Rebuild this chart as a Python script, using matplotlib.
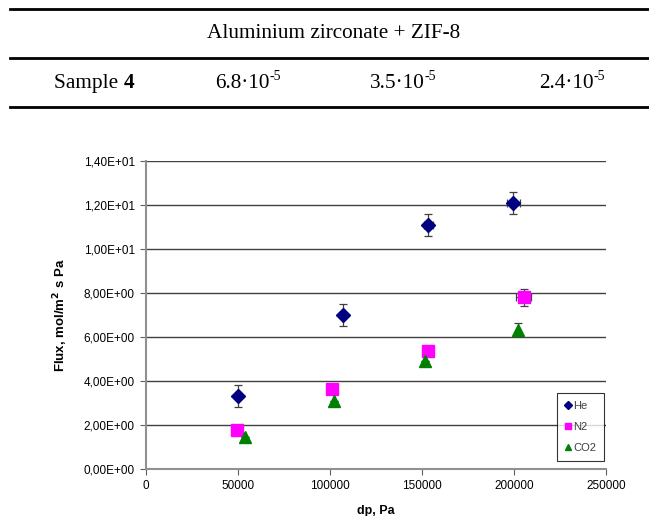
import numpy as np
import matplotlib.pyplot as plt
from matplotlib.lines import Line2D
from matplotlib.ticker import FuncFormatter, MultipleLocator

# table rows above the chart
table_title = "Aluminium zirconate + ZIF-8"
sample_name = "Sample "
sample_no = "4"
table_bases = ["6.8\u00b710", "3.5\u00b710", "2.4\u00b710"]
table_exps = ["-5", "-5", "-5"]

# He
dp_he = [50000, 107000, 153500, 199500]
flux_he = [3.35, 7.00, 11.10, 12.10]
he_yerr = [0.5, 0.5, 0.5, 0.5]
he_xerr = [0, 0, 2500, 3500]

# N2
dp_n2 = [49500, 101300, 153300, 205300]
flux_n2 = [1.79, 3.65, 5.39, 7.82]
n2_yerr = [0, 0, 0.15, 0.38]
n2_xerr = [0, 0, 1500, 4000]

# CO2
dp_co2 = [53800, 102200, 151500, 202200]
flux_co2 = [1.48, 3.10, 4.92, 6.35]
co2_yerr = [0, 0, 0, 0.3]
co2_xerr = [0, 0, 0, 0]

W, H = 649, 516
fig = plt.figure(figsize=(W / 100, H / 100), dpi=100)
renderer = fig.canvas.get_renderer()
inv = fig.transFigure.inverted()


def hline(y, lw):
    fig.add_artist(Line2D([10 / W, 1.0], [1 - y / H, 1 - y / H],
                          transform=fig.transFigure, color='black', lw=lw))


def width_fig(t):
    bb = t.get_window_extent(renderer=renderer)
    return bb.width / W


def centered_pieces(xc, y, pieces):
    # pieces: (text, size, weight, dy_px); laid out left to right, centred on xc
    texts = []
    for s, size, weight, dy in pieces:
        texts.append((fig.text(0, 1 - (y - dy) / H, s, ha='left', va='center', fontsize=size,
                               fontweight=weight, family=serif), dy))
    total = sum(width_fig(t) for t, _ in texts)
    x = xc / W - total / 2
    for t, _ in texts:
        t.set_x(x)
        x += width_fig(t)


hline(9, 2.0)
hline(57.5, 2.0)
hline(107, 2.0)

serif = ['Liberation Serif', 'DejaVu Serif']
fig.text(334 / W, 1 - 34 / H, table_title, ha='center', va='center',
         fontsize=15.3, family=serif)
centered_pieces(94.5, 83, [(sample_name, 15.3, 'normal', 0), (sample_no, 15.3, 'bold', 0)])
for xc, base, ex in zip([248, 403, 572], table_bases, table_exps):
    centered_pieces(xc, 83, [(base, 15.3, 'normal', 0), (ex, 10, 'normal', 6)])

# chart
ax = fig.add_axes([146 / W, 1 - 469.3 / H, 460 / W, 308 / H])

ax.errorbar(dp_he, flux_he, yerr=he_yerr, xerr=he_xerr, fmt='D', color='#000080',
            ms=7, mec='#000080', ecolor='#404040', elinewidth=0.9, capsize=3,
            capthick=0.9, label='He', zorder=3)
ax.errorbar(dp_n2, flux_n2, yerr=n2_yerr, xerr=n2_xerr, fmt='s', color='#FF00FF',
            ms=8, mec='#FF00FF', ecolor='#404040', elinewidth=0.9, capsize=3,
            capthick=0.9, label='N2', zorder=3)
ax.errorbar(dp_co2, flux_co2, yerr=co2_yerr, xerr=co2_xerr, fmt='^', color='#008000',
            ms=8, mec='#008000', ecolor='#404040', elinewidth=0.9, capsize=3,
            capthick=0.9, label='CO2', zorder=3)

ax.set_xlim(0, 250000)
ax.set_ylim(0, 14)
ax.xaxis.set_major_locator(MultipleLocator(50000))
ax.yaxis.set_major_locator(MultipleLocator(2))
ax.yaxis.set_major_formatter(FuncFormatter(lambda v, p: f"{v:.2E}".replace('.', ',')))

ax.grid(axis='y', color='#404040', lw=1.0)
ax.set_axisbelow(True)
for side in ['top', 'right']:
    ax.spines[side].set_visible(False)
ax.spines['left'].set_color('#909090')
ax.spines['bottom'].set_color('#909090')
ax.spines['left'].set_linewidth(1.5)
ax.spines['bottom'].set_linewidth(1.5)
ax.tick_params(axis='both', labelsize=8.5, length=4, color='#606060', pad=4)
for lab in ax.get_xticklabels() + ax.get_yticklabels():
    lab.set_family(['Liberation Sans', 'DejaVu Sans'])

ax.set_xlabel('dp, Pa', fontsize=9, fontweight='bold', family=['Liberation Sans'], labelpad=9)
ax.set_ylabel(r'Flux, mol/m$^{\mathbf{2}}$ s Pa', fontsize=9.5, fontweight='bold',
              family=['Liberation Sans'], labelpad=10)

handles = [Line2D([], [], marker='D', ls='', color='#000080', ms=4),
           Line2D([], [], marker='s', ls='', color='#FF00FF', ms=5),
           Line2D([], [], marker='^', ls='', color='#008000', ms=5)]
leg = ax.legend(handles, ['He', 'N2', 'CO2'], loc='lower right',
                bbox_to_anchor=(0.996, 0.027), frameon=True,
                fancybox=False, edgecolor='black', handlelength=0.6,
                handletextpad=0.2, labelspacing=1.0, borderpad=0.7,
                borderaxespad=0, prop={'family': 'Liberation Sans', 'size': 8})
leg.get_frame().set_linewidth(0.8)
for t in leg.get_texts():
    t.set_color('#404040')

fig.savefig('out.png', dpi=100)
